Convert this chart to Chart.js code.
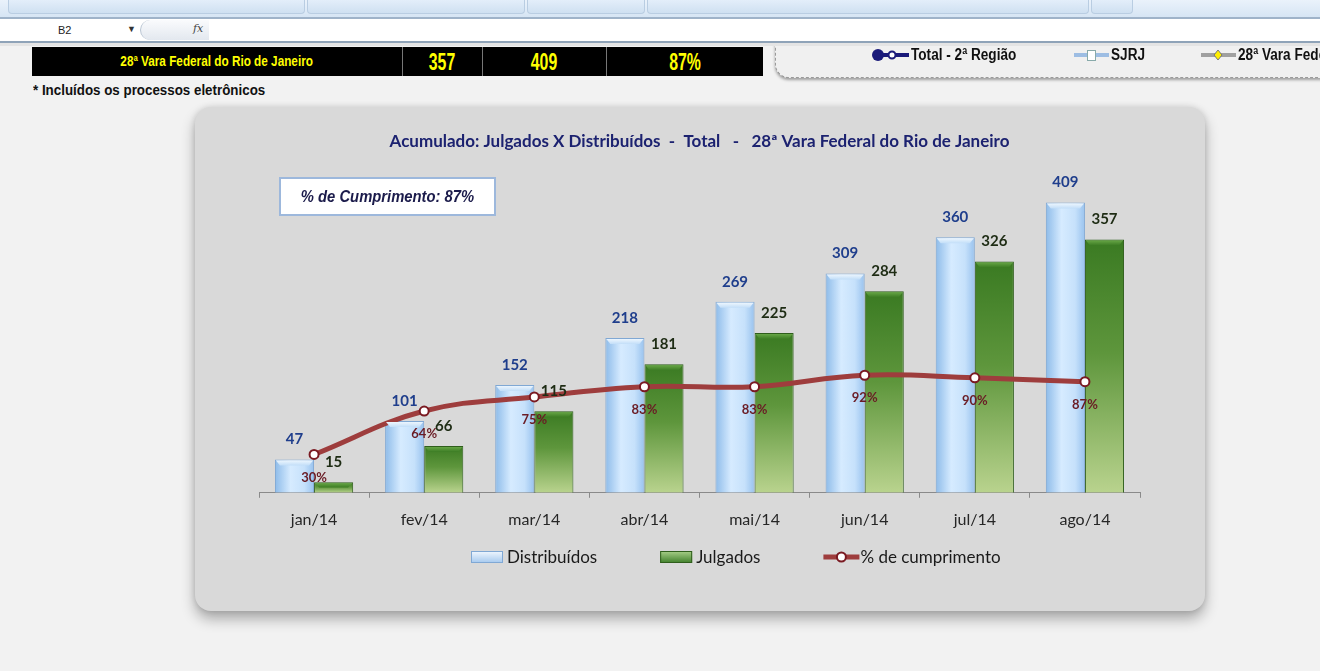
<!DOCTYPE html>
<html>
<head>
<meta charset="utf-8">
<script src="https://cdn.jsdelivr.net/npm/chart.js@4.4.0/dist/chart.umd.min.js"></script>
<style>
  html, body { margin: 0; padding: 0; }
  body { width: 1329px; height: 671px; background: #f2f2f2; position: relative; overflow: hidden; font-family: "Liberation Sans", Arial, sans-serif; }
  .ribbon { position: absolute; left: 0; top: 0; width: 1320px; height: 17px; background: linear-gradient(#eaf2fb, #d6e5f4); border-bottom: 2px solid #9fb3c9; z-index: 3; }
  .rbtn { position: absolute; top: 0; height: 13px; border: 1px solid #b9cde2; border-top: none; border-radius: 0 0 4px 4px; background: linear-gradient(#e3eefa, #cfe0f1); }
  .fbar { position: absolute; left: 0; top: 19px; width: 1320px; height: 22px; background: #fff; border-bottom: 2px solid #8fa3b8; z-index: 3; }
  .namebox { position: absolute; left: 58px; top: 5px; font-size: 11px; color: #222; }
  .arrow { position: absolute; left: 127px; top: 5px; font-size: 9px; color: #333; }
  .fxbtn { position: absolute; left: 140px; top: 1px; width: 68px; height: 20px; border-radius: 10px 0 0 10px; background: linear-gradient(#fafbfd, #e3e8ef); border-left: 1px solid #b8c4d2; }
  .fx { position: absolute; left: 193px; top: 3px; font-family: "DejaVu Serif", serif; font-style: italic; font-size: 11px; color: #444; }
  .strip { position: absolute; left: 0; top: 43px; width: 1320px; height: 3px; background: #e4e4e4; z-index: 3; }
  .blackbar { position: absolute; left: 32px; top: 47px; width: 731px; height: 29px; background: #000; }
  .cell { position: absolute; top: 0; height: 29px; line-height: 29px; text-align: center; color: #ffff00; font-weight: bold; border-right: 1px solid #777; }
  .cell span { display: inline-block; }
  .legbox { position: absolute; left: 775px; top: 20px; width: 560px; height: 56px; background: #f0f0f0; border: 1px dashed #9a9a9a; border-radius: 0 0 0 14px; box-shadow: 0 2px 3px rgba(0,0,0,0.35); z-index: 1; }
  .litem { position: absolute; top: 26px; font-weight: bold; font-size: 16px; color: #111; line-height: 16px; white-space: nowrap; transform: scaleX(0.85); transform-origin: left center; }
  .note { position: absolute; left: 33px; top: 81px; font-weight: bold; font-size: 15px; color: #111; white-space: nowrap; transform: scaleX(0.89); transform-origin: left center; }
  .rightedge { position: absolute; left: 1320px; top: 0; width: 9px; height: 671px; background: #fff; z-index: 4; }
  .chartbox { position: absolute; left: 195px; top: 107px; width: 1010px; height: 504px; background: #d9d9d9; border-radius: 16px; box-shadow: 0 8px 14px rgba(0,0,0,0.30), 0 0 6px rgba(0,0,0,0.12); }
</style>
</head>
<body>
<div class="ribbon">
  <div class="rbtn" style="left:8px;width:295px"></div>
  <div class="rbtn" style="left:307px;width:216px"></div>
  <div class="rbtn" style="left:527px;width:116px"></div>
  <div class="rbtn" style="left:647px;width:440px"></div>
  <div class="rbtn" style="left:1091px;width:40px"></div>
</div>
<div class="fbar">
  <div class="namebox">B2</div>
  <div class="arrow">&#9660;</div>
  <div class="fxbtn"></div>
  <div class="fx">fx</div>
</div>
<div class="strip"></div>
<div class="blackbar">
  <div class="cell" style="left:0;width:370px;font-size:14px"><span style="transform:scaleX(0.84)">28ª Vara Federal do Rio de Janeiro</span></div>
  <div class="cell" style="left:371px;width:79px;font-size:24px"><span style="transform:scaleX(0.66)">357</span></div>
  <div class="cell" style="left:451px;width:123px;font-size:24px"><span style="transform:scaleX(0.66)">409</span></div>
  <div class="cell" style="left:575px;width:156px;font-size:24px;border-right:none"><span style="transform:scaleX(0.66)">87%</span></div>
</div>
<div class="legbox">
  <canvas id="legmarks" width="560" height="56" style="position:absolute;left:0;top:10px"></canvas>
  <div class="litem" style="left:135px;top:26px">Total - 2ª Região</div>
  <div class="litem" style="left:335px;top:26px">SJRJ</div>
  <div class="litem" style="left:462px;top:26px">28ª Vara Federal</div>
</div>
<div class="note">* Incluídos os processos eletrônicos</div>
<div class="rightedge"></div>
<div class="chartbox">
  <canvas id="chart" width="1010" height="504"></canvas>
</div>

<script>
// dados do gráfico
var meses = ['jan/14', 'fev/14', 'mar/14', 'abr/14', 'mai/14', 'jun/14', 'jul/14', 'ago/14'];
var distribuidos = [47, 101, 152, 218, 269, 309, 360, 409];
var julgados = [15, 66, 115, 181, 225, 284, 326, 357];
var cumprimento = [30, 64, 75, 83, 83, 92, 90, 87];

var catPct = 0.71;

document.addEventListener('DOMContentLoaded', function() {
    // marcadores da legenda do topo (planilha)
    var lc = document.getElementById('legmarks').getContext('2d');
    lc.lineWidth = 4;
    lc.strokeStyle = '#1a1a7a';
    lc.beginPath(); lc.moveTo(100, 24); lc.lineTo(133, 24); lc.stroke();
    lc.fillStyle = '#1a1a7a';
    lc.beginPath(); lc.arc(102, 24, 6, 0, Math.PI * 2); lc.fill();
    lc.fillStyle = '#fff'; lc.lineWidth = 2;
    lc.beginPath(); lc.arc(116, 24, 3.5, 0, Math.PI * 2); lc.fill(); lc.stroke();
    lc.lineWidth = 4; lc.strokeStyle = '#9dbde3';
    lc.beginPath(); lc.moveTo(298, 24); lc.lineTo(333, 24); lc.stroke();
    lc.fillStyle = '#fff'; lc.strokeStyle = '#8aa'; lc.lineWidth = 1;
    lc.fillRect(311, 19, 8, 10); lc.strokeRect(311.5, 19.5, 8, 10);
    lc.lineWidth = 4; lc.strokeStyle = '#a0a0a0';
    lc.beginPath(); lc.moveTo(425, 24); lc.lineTo(460, 24); lc.stroke();
    lc.fillStyle = '#ffee00'; lc.strokeStyle = '#777'; lc.lineWidth = 1;
    lc.beginPath(); lc.moveTo(442, 19); lc.lineTo(446, 24); lc.lineTo(442, 29); lc.lineTo(438, 24); lc.closePath(); lc.fill(); lc.stroke();

    function halfCat(chart) {
        return chart.scales.x.width / meses.length * catPct / 2;
    }

    function blueFill(context) {
        var chart = context.chart;
        if (!chart.chartArea || !chart.scales.x) return '#bcdcfa';
        var w = halfCat(chart);
        var l = chart.scales.x.getPixelForValue(context.dataIndex) - w;
        var g = chart.ctx.createLinearGradient(l, 0, l + w, 0);
        g.addColorStop(0, '#8dbbe9');
        g.addColorStop(0.4, '#d6ebff');
        g.addColorStop(0.75, '#c6e1fb');
        g.addColorStop(1, '#98c2ee');
        return g;
    }

    function greenFill(context) {
        var chart = context.chart;
        if (!chart.chartArea || !chart.scales.y) return '#5f9a3c';
        var y = chart.scales.y;
        var top = y.getPixelForValue(context.raw);
        var bottom = y.getPixelForValue(0);
        var g = chart.ctx.createLinearGradient(0, top, 0, bottom);
        g.addColorStop(0, '#3a7a22');
        g.addColorStop(0.45, '#5e963c');
        g.addColorStop(1, '#b9d38e');
        return g;
    }

    // chanfro no topo das barras e rótulos de valores
    var valueLabels = {
        id: 'valueLabels',
        afterDatasetsDraw: function(chart) {
            var ctx = chart.ctx;
            ctx.save();
            chart.data.datasets.forEach(function(ds, i) {
                if (ds.type === 'line') return;
                var meta = chart.getDatasetMeta(i);
                meta.data.forEach(function(el) {
                    var hw = el.width / 2;
                    var d = Math.min(6, (el.base - el.y) / 2);
                    var g = ctx.createLinearGradient(0, el.y, 0, el.y + d);
                    g.addColorStop(0, ds.bevelTop);
                    g.addColorStop(1, ds.bevelBottom);
                    ctx.fillStyle = g;
                    ctx.beginPath();
                    ctx.moveTo(el.x - hw + 1, el.y + 1);
                    ctx.lineTo(el.x + hw - 1, el.y + 1);
                    ctx.lineTo(el.x + hw - 5, el.y + d);
                    ctx.lineTo(el.x - hw + 5, el.y + d);
                    ctx.closePath();
                    ctx.fill();
                });
            });
            ctx.textAlign = 'center';
            ctx.textBaseline = 'middle';
            chart.data.datasets.forEach(function(ds, i) {
                var meta = chart.getDatasetMeta(i);
                meta.data.forEach(function(el, j) {
                    var v = ds.data[j];
                    if (ds.type === 'line') {
                        ctx.font = 'bold 13px Lato';
                        ctx.fillStyle = '#6a1c25';
                        ctx.fillText(v + '%', el.x, el.y + 23);
                    } else {
                        ctx.font = 'bold 15px Lato';
                        ctx.fillStyle = ds.labelColor;
                        ctx.fillText(v, el.x, el.y - 20);
                    }
                });
            });
            ctx.restore();
        }
    };

    // caixa "% de Cumprimento" e legenda
    var extras = {
        id: 'extras',
        afterDraw: function(chart) {
            var ctx = chart.ctx;
            ctx.save();
            ctx.fillStyle = '#fff';
            ctx.fillRect(85, 71, 215, 37);
            ctx.strokeStyle = '#9db8dc';
            ctx.lineWidth = 2;
            ctx.strokeRect(85, 71, 215, 37);
            var n = julgados.length - 1;
            var pct = Math.round(julgados[n] / distribuidos[n] * 100);
            ctx.font = 'italic bold 17px "Liberation Sans"';
            ctx.fillStyle = '#1b1b4b';
            ctx.textAlign = 'center';
            ctx.textBaseline = 'middle';
            ctx.save();
            ctx.translate(192.5, 90);
            ctx.scale(0.87, 1);
            ctx.fillText('% de Cumprimento: ' + pct + '%', 0, 0);
            ctx.restore();

            // legenda
            var y = 450;
            ctx.font = '17px Lato';
            ctx.textAlign = 'left';
            var x = 276;
            chart.data.datasets.forEach(function(ds) {
                if (ds.type === 'line') {
                    ctx.strokeStyle = ds.borderColor;
                    ctx.lineWidth = 5;
                    ctx.beginPath(); ctx.moveTo(x, y); ctx.lineTo(x + 36, y); ctx.stroke();
                    ctx.fillStyle = '#fff';
                    ctx.strokeStyle = ds.pointBorderColor;
                    ctx.lineWidth = 2;
                    ctx.beginPath(); ctx.arc(x + 18, y, 4.5, 0, Math.PI * 2); ctx.fill(); ctx.stroke();
                    x += 37;
                } else {
                    var g = ctx.createLinearGradient(0, y - 6, 0, y + 6);
                    g.addColorStop(0, ds.legendTop);
                    g.addColorStop(1, ds.legendBottom);
                    ctx.fillStyle = g;
                    ctx.fillRect(x, y - 6, 32, 12);
                    ctx.strokeStyle = ds.borderColor;
                    ctx.lineWidth = 1;
                    ctx.strokeRect(x + 0.5, y - 5.5, 31, 11);
                    x += 36;
                }
                ctx.fillStyle = '#1a1a1a';
                ctx.fillText(ds.label, x, y + 1);
                x += ctx.measureText(ds.label).width + 63;
            });
            ctx.restore();
        }
    };

    var ctx1 = document.getElementById('chart').getContext('2d');
    var grafico = new Chart(ctx1, {
        data: {
            labels: meses,
            datasets: [{
                type: 'bar',
                label: 'Distribuídos',
                data: distribuidos,
                yAxisID: 'y',
                backgroundColor: blueFill,
                borderColor: '#80a8d4',
                borderWidth: 1,
                labelColor: '#1f3e8c',
                legendTop: '#f2f8ff',
                legendBottom: '#a4c8ee',
                bevelTop: '#f4faff',
                bevelBottom: '#c2def8',
                categoryPercentage: catPct,
                barPercentage: 1,
                order: 1
            }, {
                type: 'bar',
                label: 'Julgados',
                data: julgados,
                yAxisID: 'y',
                backgroundColor: greenFill,
                borderColor: '#2f5e1c',
                borderWidth: 1,
                labelColor: '#1e2c14',
                legendTop: '#a9d08a',
                legendBottom: '#3f7f2a',
                bevelTop: '#6fae4c',
                bevelBottom: '#3c7c24',
                categoryPercentage: catPct,
                barPercentage: 1,
                order: 2
            }, {
                type: 'line',
                label: '% de cumprimento',
                data: cumprimento,
                yAxisID: 'y2',
                borderColor: '#9e3d3d',
                borderWidth: 5,
                tension: 0.4,
                pointRadius: 4.5,
                pointBackgroundColor: '#fff',
                pointBorderColor: '#7a1a22',
                pointBorderWidth: 2,
                order: 0
            }]
        },
        options: {
            responsive: false,
            animation: false,
            layout: { padding: { left: 64, right: 65, top: 0, bottom: 70 } },
            plugins: {
                legend: { display: false },
                tooltip: { enabled: false },
                title: {
                    display: true,
                    text: 'Acumulado: Julgados X Distribuídos  -  Total   -   28ª Vara Federal do Rio de Janeiro',
                    color: '#1c2270',
                    font: { family: 'Lato', size: 17, weight: 'bold' },
                    padding: { top: 24, bottom: 22 }
                }
            },
            scales: {
                x: {
                    grid: { display: true, offset: true, drawOnChartArea: false, tickLength: 5, color: '#8a8a8a' },
                    border: { color: '#8a8a8a' },
                    ticks: { color: '#262626', padding: 12, font: { family: 'Lato', size: 16 } }
                },
                y: { display: false, min: 0, max: 450 },
                y2: { display: false, min: 0, max: 250, position: 'right' }
            }
        },
        plugins: [valueLabels, extras]
    });
});
</script>
</body>
</html>
